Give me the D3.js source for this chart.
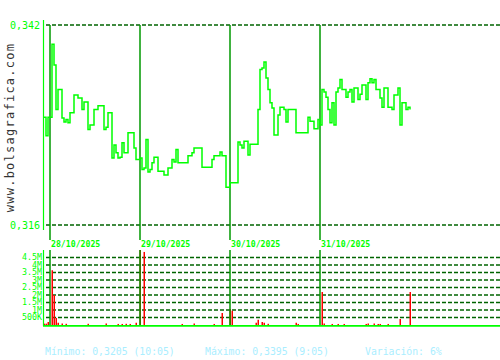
<!DOCTYPE html>
<html>
<head>
<meta charset="utf-8">
<script src="https://cdn.jsdelivr.net/npm/d3@7"></script>
<style>
  body { margin: 0; background: #fff; }
  svg { display: block; }
  text { font-family: "DejaVu Sans Mono", monospace; }
</style>
</head>
<body>
<div id="chart"></div>
<script>
const width = 500;
const height = 360;

// one price every few minutes, 4 sessions
const days = ['28/10/2025', '29/10/2025', '30/10/2025', '31/10/2025'];
const dayStart = [3, 48, 93, 138];

const prices = [
  0.3300, 0.3276, 0.3300, 0.3300, 0.3395, 0.3368, 0.3310, 0.3336, 0.3336, 0.3299,
  0.3294, 0.3297, 0.3293, 0.3306, 0.3306, 0.3329, 0.3329, 0.3325, 0.3325, 0.3310,
  0.3320, 0.3320, 0.3284, 0.3290, 0.3290, 0.3310, 0.3310, 0.3315, 0.3315, 0.3315,
  0.3284, 0.3287, 0.3306, 0.3306, 0.3247, 0.3264, 0.3254, 0.3247, 0.3248, 0.3267,
  0.3254, 0.3254, 0.3280, 0.3280, 0.3280, 0.3260, 0.3245, 0.3245, 0.3247, 0.3232,
  0.3234, 0.3271, 0.3229, 0.3232, 0.3241, 0.3248, 0.3248, 0.3230, 0.3230, 0.3230,
  0.3225, 0.3225, 0.3234, 0.3234, 0.3245, 0.3242, 0.3258, 0.3241, 0.3241, 0.3241,
  0.3241, 0.3241, 0.3250, 0.3250, 0.3254, 0.3260, 0.3260, 0.3260, 0.3260, 0.3235,
  0.3235, 0.3235, 0.3235, 0.3235, 0.3245, 0.3250, 0.3250, 0.3250, 0.3255, 0.3250,
  0.3250, 0.3209, 0.3209, 0.3215, 0.3215, 0.3215, 0.3215, 0.3268, 0.3264, 0.3260,
  0.3269, 0.3269, 0.3251, 0.3265, 0.3265, 0.3265, 0.3265, 0.3310, 0.3362, 0.3364,
  0.3372, 0.3351, 0.3336, 0.3319, 0.3312, 0.3277, 0.3277, 0.3303, 0.3313, 0.3313,
  0.3310, 0.3294, 0.3310, 0.3310, 0.3310, 0.3310, 0.3280, 0.3280, 0.3280, 0.3280,
  0.3280, 0.3280, 0.3300, 0.3295, 0.3295, 0.3285, 0.3285, 0.3297, 0.3290, 0.3336,
  0.3333, 0.3326, 0.3310, 0.3293, 0.3319, 0.3290, 0.3333, 0.3338, 0.3349, 0.3336,
  0.3336, 0.3326, 0.3333, 0.3336, 0.3320, 0.3338, 0.3338, 0.3323, 0.3330, 0.3342,
  0.3342, 0.3323, 0.3345, 0.3350, 0.3345, 0.3349, 0.3336, 0.3336, 0.3325, 0.3313,
  0.3338, 0.3338, 0.3313, 0.3313, 0.3310, 0.3329, 0.3329, 0.3338, 0.3290, 0.3319,
  0.3319, 0.3310, 0.3313, 0.3310
];

// volume (millions), only the slots that traded visibly
const volSlot = [0, 1, 2, 4, 5, 6, 7, 9, 11, 22, 31, 37, 39, 41, 43, 46, 48, 50,
  69, 75, 85, 89, 93, 94, 106, 107, 109, 110, 112, 126, 127, 139, 140, 144, 147,
  150, 161, 162, 165, 167, 168, 172, 178, 183];
const volM = [0.09, 0.09, 0.2, 3.65, 2.0, 0.47, 0.15, 0.1, 0.08, 0.08, 0.1, 0.07,
  0.07, 0.08, 0.07, 0.15, 5.0, 4.87, 0.07, 0.1, 0.07, 0.8, 1.07, 0.95, 0.15, 0.35,
  0.2, 0.15, 0.08, 0.15, 0.07, 2.2, 0.1, 0.07, 0.07, 0.07, 0.07, 0.1, 0.1, 0.07,
  0.07, 0.07, 0.4, 2.2];

const priceTicks = [0.342, 0.316];
const volTicks = [0.5, 1, 1.5, 2, 2.5, 3, 3.5, 4, 4.5];
const volTickLabels = ['500K', '1M', '1.5M', '2M', '2.5M', '3M', '3.5M', '4M', '4.5M'];

const footer = [
  {text: 'Mínimo: 0,3205 (10:05)', x: 45},
  {text: 'Máximo: 0,3395 (9:05)', x: 205},
  {text: 'Variación: 6%', x: 365}
];

const lime = '#00ff00';
const dayGreen = '#009900';
const gridGreen = '#006400';

const x = d3.scaleLinear().domain([0, prices.length - 1]).range([44, 410]);
const y = d3.scaleLinear().domain([0.316, 0.342]).range([225, 25]);
const yVol = d3.scaleLinear().domain([0, 4.5]).range([325, 257.5]);

const svg = d3.select('#chart')
  .append('svg')
  .attr('width', width)
  .attr('height', height);

svg.append('rect').attr('width', width).attr('height', height).attr('fill', '#fff');

// watermark
svg.append('text')
  .attr('transform', 'translate(13.5,127.5) rotate(-90)')
  .attr('text-anchor', 'middle')
  .attr('font-size', 12)
  .attr('letter-spacing', 1.25)
  .attr('fill', '#333')
  .text('www.bolsagrafica.com');

// price grid
svg.selectAll('.pgrid')
  .data(priceTicks)
  .enter().append('line')
    .attr('x1', 46).attr('x2', 500)
    .attr('y1', d => y(d)).attr('y2', d => y(d))
    .attr('stroke', gridGreen)
    .attr('stroke-width', 1.5)
    .attr('stroke-dasharray', '4,2');

svg.selectAll('.plabel')
  .data(priceTicks)
  .enter().append('text')
    .attr('x', 40)
    .attr('y', d => y(d))
    .attr('dy', '0.35em')
    .attr('text-anchor', 'end')
    .attr('font-size', 10)
    .attr('fill', lime)
    .text(d => d3.format('.3f')(d).replace('.', ','));

// volume grid
svg.selectAll('.vgrid')
  .data(volTicks)
  .enter().append('line')
    .attr('x1', 46).attr('x2', 500)
    .attr('y1', d => yVol(d)).attr('y2', d => yVol(d))
    .attr('stroke', gridGreen)
    .attr('stroke-width', 1.6)
    .attr('stroke-dasharray', '4,2');

svg.selectAll('.vlabel')
  .data(volTicks)
  .enter().append('text')
    .attr('x', 42)
    .attr('y', d => yVol(d))
    .attr('dy', '0.35em')
    .attr('text-anchor', 'end')
    .attr('font-size', 8.3)
    .attr('fill', lime)
    .text((d, i) => volTickLabels[i]);

// volume bars
svg.selectAll('.bar')
  .data(volSlot)
  .enter().append('rect')
    .attr('x', d => x(d) - 0.5)
    .attr('y', (d, i) => yVol(volM[i]))
    .attr('width', 1.5)
    .attr('height', (d, i) => yVol(0) - yVol(volM[i]))
    .attr('fill', '#ff0000');

// day separators
svg.selectAll('.day')
  .data(dayStart)
  .enter().append('line')
    .attr('x1', d => x(d)).attr('x2', d => x(d))
    .attr('y1', 25).attr('y2', 240)
    .attr('stroke', dayGreen)
    .attr('stroke-width', 1.5);

svg.selectAll('.dayv')
  .data(dayStart)
  .enter().append('line')
    .attr('x1', d => x(d)).attr('x2', d => x(d))
    .attr('y1', 250).attr('y2', 325)
    .attr('stroke', dayGreen)
    .attr('stroke-width', 1.5);

svg.selectAll('.daylabel')
  .data(dayStart)
  .enter().append('text')
    .attr('x', d => x(d) + 1)
    .attr('y', 247)
    .attr('font-size', 8.2)
    .attr('font-weight', 'bold')
    .attr('fill', lime)
    .text((d, i) => days[i]);

// axes
svg.append('line')
  .attr('x1', 43.5).attr('x2', 43.5).attr('y1', 20).attr('y2', 230)
  .attr('stroke', lime).attr('stroke-width', 1.2);
svg.append('line')
  .attr('x1', 43.5).attr('x2', 43.5).attr('y1', 250).attr('y2', 326)
  .attr('stroke', lime).attr('stroke-width', 1.2);
svg.append('line')
  .attr('x1', 43).attr('x2', 500).attr('y1', 325.8).attr('y2', 325.8)
  .attr('stroke', lime).attr('stroke-width', 1.8);

// price line
const line = d3.line()
  .x((d, i) => x(i))
  .y(d => y(d))
  .curve(d3.curveStepAfter);

svg.append('path')
  .datum(prices)
  .attr('fill', 'none')
  .attr('stroke', lime)
  .attr('stroke-width', 1.5)
  .attr('d', line);

// footer
svg.selectAll('.foot')
  .data(footer)
  .enter().append('text')
    .attr('x', d => d.x)
    .attr('y', 355)
    .attr('font-size', 9.8)
    .attr('fill', '#aaeeff')
    .text(d => d.text);
</script>
</body>
</html>
